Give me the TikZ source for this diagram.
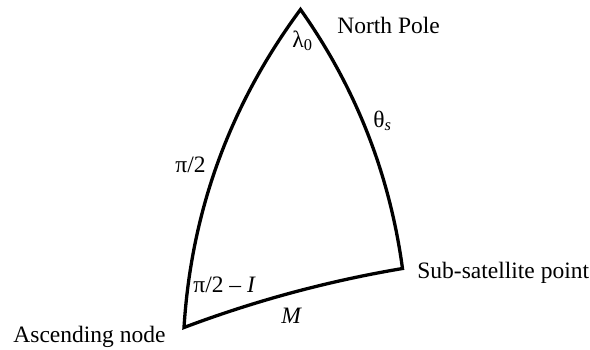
\documentclass[tikz,border=0pt]{standalone}
\usepackage{fontspec}
\setmainfont{Liberation Serif}
\usetikzlibrary{calc}
\begin{document}
\begin{tikzpicture}[x=0.5pt,y=-0.5pt,
  lbl/.style={anchor=base west,inner sep=0pt,font=\fontsize{11.75}{14}\selectfont},
  edge/.style={line width=1.65pt}]
\useasboundingbox (0,0) rectangle (590,349);
\coordinate (N) at (300.5,9.5);
\coordinate (A) at (184,327.5);
\coordinate (S) at (402.5,268.5);
\coordinate (cL) at (195,152);
\coordinate (cR) at (383,126);
\coordinate (cB) at (290.4,287.4);
\draw[edge] (N) .. controls ($(N)!2/3!(cL)$) and ($(A)!2/3!(cL)$) .. (A)
  .. controls ($(A)!2/3!(cB)$) and ($(S)!2/3!(cB)$) .. (S)
  .. controls ($(S)!2/3!(cR)$) and ($(N)!2/3!(cR)$) .. cycle;
\node[lbl] (np) at (337,33) {North Pole};
\node[lbl] (ss) at (417,278) {Sub-satellite point};
\node[lbl] (an) at (13,342) {Ascending node};
\node[lbl] (lam) at (292,47) {λ\textsubscript{0}};
\node[lbl] (th) at (373,127) {θ\textsubscript{\textit{s}}};
\node[lbl] (pi2) at (175,172) {π/2};
\node[lbl] (pi2i) at (193,292) {π/2 – \textit{I}};
\node[lbl] (m) at (281,323) {\textit{M}};
\end{tikzpicture}
\end{document}
